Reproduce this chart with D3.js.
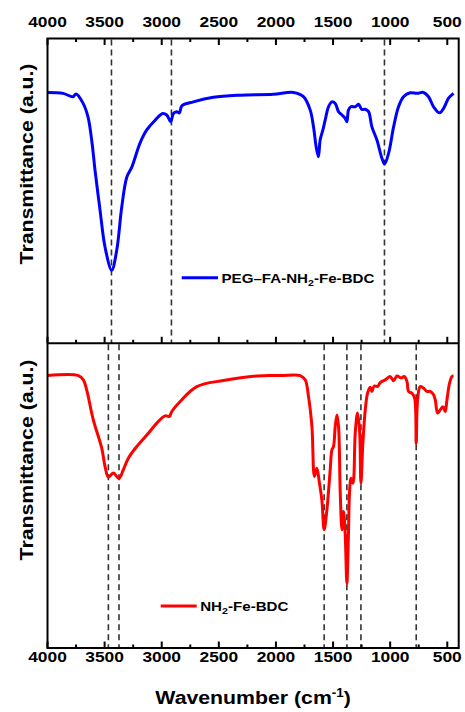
<!DOCTYPE html>
<html>
<head>
<meta charset="utf-8">
<script src="https://cdn.jsdelivr.net/npm/d3@7"></script>
<style>
  html, body { margin: 0; padding: 0; background: #fff; }
  text { font-family: "Liberation Sans", Arial, sans-serif; font-weight: bold; fill: #000; }
</style>
</head>
<body>
<svg id="chart" width="465" height="712"></svg>
<script>
// FTIR spectra (wavenumber in cm-1, transmittance in arbitrary units)
const pegWavenumber = [4000, 3864, 3777, 3750, 3689, 3645, 3610, 3584, 3540, 3496, 3438, 3394, 3350, 3306, 3262, 3190, 3131, 3058, 2991, 2956, 2921, 2898, 2868, 2845, 2824, 2723, 2547, 2313, 2024, 1847, 1759, 1700, 1671, 1648, 1628, 1613, 1589, 1569, 1540, 1510, 1481, 1452, 1422, 1394, 1379, 1365, 1344, 1306, 1277, 1247, 1218, 1189, 1160, 1116, 1072, 1049, 1014, 970, 927, 883, 824, 765, 708, 664, 620, 567, 532, 489, 445];
const pegTransmittance = [82.3, 82.0, 80.9, 81.8, 78.8, 74.2, 65.7, 56.8, 43.7, 31.5, 24.0, 30.5, 44.7, 54.5, 57.8, 65.7, 70.0, 73.2, 75.4, 74.9, 72.7, 75.4, 76.0, 75.6, 77.9, 79.2, 80.7, 81.4, 81.7, 82.3, 80.9, 76.5, 71.0, 64.5, 61.2, 66.7, 70.0, 73.2, 77.6, 79.2, 78.7, 76.0, 74.9, 73.8, 72.7, 76.5, 77.6, 77.6, 78.4, 76.7, 76.8, 76.0, 71.0, 66.7, 60.7, 58.8, 62.3, 71.0, 77.6, 80.9, 82.2, 82.0, 82.3, 80.9, 77.6, 75.6, 77.1, 80.4, 82.0];

const mofWavenumber = [4000, 3730, 3686, 3657, 3599, 3525, 3496, 3467, 3424, 3374, 3336, 3292, 3219, 3117, 3043, 2971, 2933, 2912, 2839, 2693, 2460, 2167, 1963, 1788, 1744, 1715, 1685, 1663, 1642, 1619, 1598, 1578, 1554, 1525, 1510, 1496, 1481, 1466, 1452, 1437, 1422, 1408, 1394, 1379, 1365, 1356, 1344, 1326, 1306, 1286, 1268, 1256, 1239, 1218, 1198, 1175, 1160, 1140, 1111, 1087, 1043, 1000, 970, 941, 906, 877, 853, 839, 809, 786, 772, 760, 737, 708, 678, 649, 620, 605, 585, 561, 538, 518, 503, 480, 459, 445];
const mofTransmittance = [89.4, 89.4, 88.0, 84.7, 74.9, 65.6, 59.5, 56.1, 57.4, 55.7, 58.5, 62.3, 66.1, 70.5, 73.8, 76.2, 76.0, 77.6, 80.9, 85.8, 87.8, 89.3, 89.4, 89.4, 88.0, 82.5, 72.7, 56.3, 59.0, 54.1, 48.6, 38.8, 45.3, 58.5, 65.0, 66.1, 72.7, 76.5, 72.7, 50.8, 38.8, 44.8, 37.7, 21.2, 37.7, 50.8, 55.7, 54.1, 70.5, 77.1, 71.6, 54.1, 67.2, 78.2, 83.6, 85.6, 84.2, 86.0, 85.8, 87.1, 88.0, 89.1, 87.7, 89.3, 88.6, 89.1, 87.5, 84.2, 83.6, 82.0, 67.2, 81.4, 85.8, 85.3, 84.2, 84.2, 83.1, 81.4, 77.1, 78.2, 79.2, 77.6, 81.4, 86.9, 89.1, 89.3];

// marked band positions (cm-1)
const pegBands = [3440, 2915, 1050];
const mofBands = [3467, 3374, 1578, 1379, 1256, 772];

const xTickLabels = [4000, 3500, 3000, 2500, 2000, 1500, 1000, 500];
const xMinorTicks = [3750, 3250, 2750, 2250, 1750, 1250, 750];

const seriesNames = ["PEG\u2013FA-NH", "2", "-Fe-BDC"];
const seriesNames2 = ["NH", "2", "-Fe-BDC"];
const yTitle = "Transmittance (a.u.)";

const svg = d3.select("#chart");
const plotLeft = 47.5, plotRight = 458.7;
const plotTop = 38.5, plotMid = 343.3, plotBottom = 648;
const stretch = "scale(1.12,1)";

const x = d3.scaleLinear().domain([4000, 400]).range([plotLeft, plotRight]);
const yTop = d3.scaleLinear().domain([0, 100]).range([plotMid, plotTop]);
const yBot = d3.scaleLinear().domain([0, 100]).range([plotBottom, plotMid]);

const defs = svg.append("defs");
defs.append("clipPath").attr("id", "clipTop").append("rect")
  .attr("x", plotLeft).attr("y", plotTop).attr("width", plotRight - plotLeft).attr("height", plotMid - plotTop);
defs.append("clipPath").attr("id", "clipBot").append("rect")
  .attr("x", plotLeft).attr("y", plotMid).attr("width", plotRight - plotLeft).attr("height", plotBottom - plotMid);

// dashed band markers
function bands(list, y0, y1) {
  svg.append("g").selectAll("line").data(list).join("line")
    .attr("x1", d => x(d)).attr("x2", d => x(d))
    .attr("y1", y0).attr("y2", y1)
    .attr("stroke", "#333").attr("stroke-width", 1.6)
    .attr("stroke-dasharray", "6,4");
}
bands(pegBands, plotTop + 1, plotMid);
bands(mofBands, plotMid + 1, plotBottom);

// spectra
const line = (yScale) => d3.line()
  .x(d => x(d[0])).y(d => yScale(d[1]))
  .curve(d3.curveCatmullRom.alpha(0.5));

svg.append("path")
  .datum(d3.zip(pegWavenumber, pegTransmittance))
  .attr("clip-path", "url(#clipTop)")
  .attr("d", line(yTop))
  .attr("fill", "none").attr("stroke", "#0000ff").attr("stroke-width", 3)
  .attr("stroke-linejoin", "round");

svg.append("path")
  .datum(d3.zip(mofWavenumber, mofTransmittance))
  .attr("clip-path", "url(#clipBot)")
  .attr("d", line(yBot))
  .attr("fill", "none").attr("stroke", "#ff0000").attr("stroke-width", 3)
  .attr("stroke-linejoin", "round");

// axes: inward ticks, major every 500 with minor in between
function tickRow(y, dir) {
  const g = svg.append("g");
  g.selectAll("line.major").data(xTickLabels).join("line")
    .attr("class", "major")
    .attr("x1", d => x(d)).attr("x2", d => x(d))
    .attr("y1", y).attr("y2", y + dir * 6.5)
    .attr("stroke", "#000").attr("stroke-width", 2);
  g.selectAll("line.minor").data(xMinorTicks).join("line")
    .attr("class", "minor")
    .attr("x1", d => x(d)).attr("x2", d => x(d))
    .attr("y1", y).attr("y2", y + dir * 3.5)
    .attr("stroke", "#000").attr("stroke-width", 2);
}
tickRow(plotTop, 1);
tickRow(plotMid, -1);
tickRow(plotBottom, -1);

// frame
svg.append("rect").attr("x", plotLeft).attr("y", plotTop)
  .attr("width", plotRight - plotLeft).attr("height", plotBottom - plotTop)
  .attr("fill", "none").attr("stroke", "#000").attr("stroke-width", 2);
svg.append("line").attr("x1", plotLeft).attr("x2", plotRight).attr("y1", plotMid).attr("y2", plotMid)
  .attr("stroke", "#000").attr("stroke-width", 2);

// tick labels (top and bottom)
function tickLabels(yBase) {
  svg.append("g").selectAll("text").data(xTickLabels).join("text")
    .attr("transform", d => `translate(${x(d)},${yBase}) ${stretch}`)
    .attr("text-anchor", "middle")
    .attr("font-size", 15.5)
    .text(d => d);
}
tickLabels(27);
tickLabels(662);

// axis titles
const xt = svg.append("text")
  .attr("transform", `translate(${(plotLeft + plotRight) / 2},704) ${stretch}`)
  .attr("text-anchor", "middle").attr("font-size", 19);
xt.append("tspan").text("Wavenumber (cm");
xt.append("tspan").attr("font-size", 12).attr("dy", -7).text("-1");
xt.append("tspan").attr("dy", 7).text(")");

[164, 460].forEach(cy => {
  svg.append("text")
    .attr("transform", `translate(33,${cy}) rotate(-90) ${stretch}`)
    .attr("text-anchor", "middle").attr("font-size", 19)
    .text(yTitle);
});

// legends
function legend(x0, x1, ly, color, parts) {
  svg.append("line").attr("x1", x0).attr("x2", x1).attr("y1", ly).attr("y2", ly)
    .attr("stroke", color).attr("stroke-width", 3);
  const t = svg.append("text")
    .attr("transform", `translate(${x1 + 3.5},${ly + 5.3}) ${stretch}`)
    .attr("font-size", 13.5);
  t.append("tspan").text(parts[0]);
  t.append("tspan").attr("font-size", 9.5).attr("dy", 3).text(parts[1]);
  t.append("tspan").attr("dy", -3).text(parts[2]);
}
legend(181.7, 218, 277.7, "#0000ff", seriesNames);
legend(160.7, 196.7, 606, "#ff0000", seriesNames2);
</script>
</body>
</html>
